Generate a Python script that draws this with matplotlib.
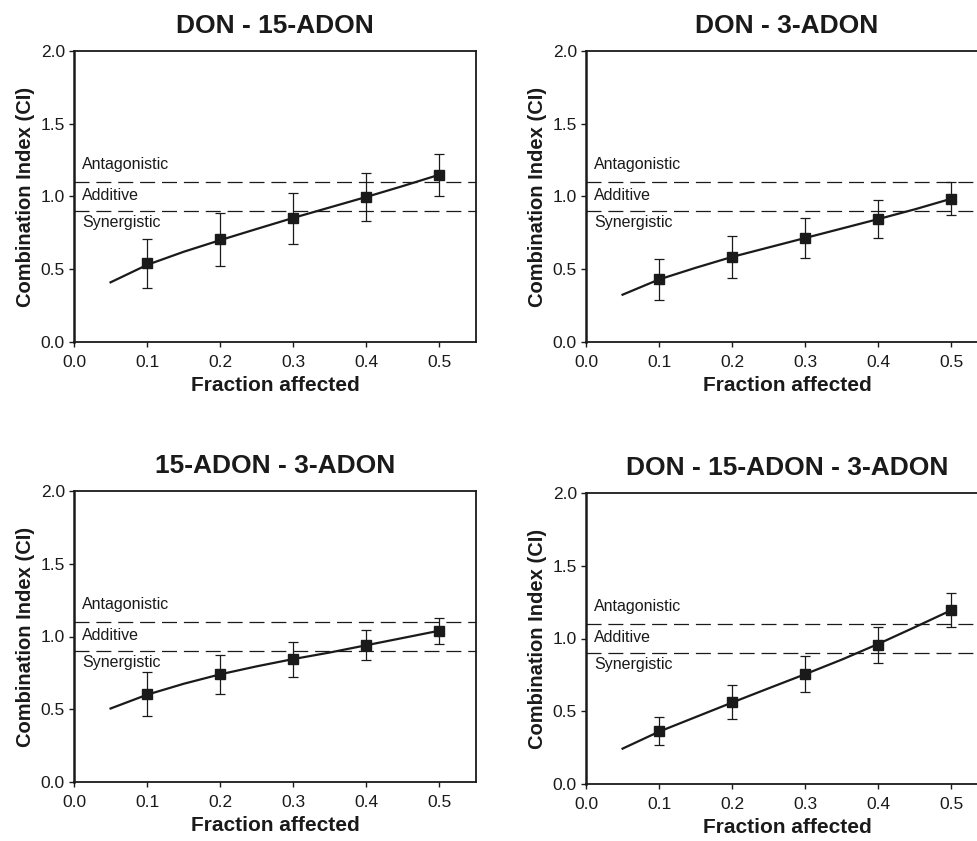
import matplotlib
matplotlib.use('Agg')
import matplotlib.pyplot as plt

plt.rcParams['font.family'] = ['Liberation Sans', 'DejaVu Sans']

INK = '#1a1a1a'

titles = ['DON - 15-ADON', 'DON - 3-ADON', '15-ADON - 3-ADON', 'DON - 15-ADON - 3-ADON']

fa_points = [0.1, 0.2, 0.3, 0.4, 0.5]
ci_points = [
    [0.54, 0.705, 0.85, 0.995, 1.145],
    [0.43, 0.585, 0.715, 0.845, 0.985],
    [0.605, 0.74, 0.843, 0.941, 1.04],
    [0.364, 0.564, 0.755, 0.957, 1.197],
]
ci_err = [
    [0.17, 0.18, 0.175, 0.165, 0.145],
    [0.14, 0.143, 0.138, 0.128, 0.115],
    [0.153, 0.136, 0.12, 0.104, 0.09],
    [0.095, 0.115, 0.123, 0.125, 0.117],
]

fa_curve = [0.05, 0.1, 0.15, 0.2, 0.25, 0.3, 0.35, 0.4, 0.45, 0.5]
ci_curve = [
    [0.41, 0.53, 0.62, 0.70, 0.777, 0.853, 0.925, 0.997, 1.072, 1.15],
    [0.325, 0.43, 0.51, 0.585, 0.65, 0.715, 0.78, 0.845, 0.912, 0.985],
    [0.505, 0.60, 0.675, 0.74, 0.795, 0.845, 0.89, 0.94, 0.99, 1.04],
    [0.243, 0.36, 0.46, 0.56, 0.658, 0.755, 0.855, 0.963, 1.078, 1.195],
]

zones = [(1.22, 'Antagonistic'), (1.005, 'Additive'), (0.82, 'Synergistic')]
bounds = [1.1, 0.9]

# axes boxes in pixels (left, top) of a 977x841 canvas
W, H = 977, 841
boxes = [(74, 51), (586, 51), (74, 491), (586, 493)]
box_w, box_h = 402, 291

fig = plt.figure(figsize=(W / 100, H / 100), dpi=100)

for i, (left, top) in enumerate(boxes):
    ax = fig.add_axes([left / W, 1 - (top + box_h) / H, box_w / W, box_h / H])

    for b in bounds:
        ax.axhline(b, color=INK, lw=0.9, linestyle=(0, (12, 5.5)), zorder=1)
    for y, name in zones:
        ax.text(0.011, y, name, fontsize=11.5, color=INK, va='center', ha='left')

    ax.plot(fa_curve, ci_curve[i], color=INK, lw=1.6, zorder=2)
    ax.errorbar(fa_points, ci_points[i], yerr=ci_err[i], fmt='s', color=INK,
                ms=7.5, elinewidth=0.9, capsize=3.8, capthick=0.9, zorder=3)

    ax.set_xlim(0, 0.55)
    ax.set_ylim(0, 2.0)
    ax.set_xticks([0.0, 0.1, 0.2, 0.3, 0.4, 0.5])
    ax.set_yticks([0.0, 0.5, 1.0, 1.5, 2.0])
    ax.set_xticklabels(['0.0', '0.1', '0.2', '0.3', '0.4', '0.5'])
    ax.set_yticklabels(['0.0', '0.5', '1.0', '1.5', '2.0'])
    ax.tick_params(direction='out', length=3.5, width=1, colors=INK,
                   labelsize=12.5, pad=3)
    ax.tick_params(axis='x', pad=6)
    for s in ax.spines.values():
        s.set_color(INK)
        s.set_linewidth(1.3)
    ax.spines['left'].set_linewidth(1.8)

    ax.set_title(titles[i], fontsize=19, fontweight='bold', color=INK, pad=13)
    ax.set_xlabel('Fraction affected', fontsize=15, fontweight='bold',
                  color=INK, labelpad=4)
    ax.set_ylabel('Combination Index (CI)', fontsize=14.5, fontweight='bold',
                  color=INK, labelpad=4)

fig.savefig('out.png', dpi=100)
